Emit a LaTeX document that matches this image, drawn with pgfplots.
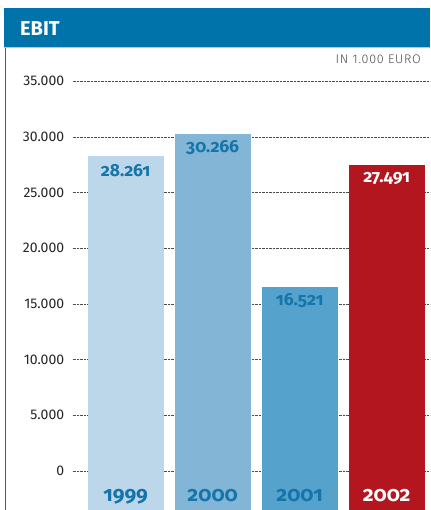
\documentclass[border=0pt]{standalone}
\usepackage{fontspec}
\setmainfont{Fira Sans}
\newfontfamily\oldnum[Numbers=OldStyle]{Fira Sans}
\newfontfamily\lightfont[LetterSpace=6]{Fira Sans Light}
\usepackage{pgfplots}
\pgfplotsset{compat=1.18}
\definecolor{hdr}{HTML}{0073AA}
\definecolor{c99}{HTML}{BCD6EA}
\definecolor{c00}{HTML}{82B5D6}
\definecolor{c01}{HTML}{55A3CC}
\definecolor{c02}{HTML}{B3161F}
\definecolor{lbl}{HTML}{1575AA}
\pgfplotsset{
  valbar/.style={ybar, bar width=76pt, bar shift=0pt, draw=none, fill=#1,
    nodes near coords,
    every node near coord/.append style={anchor=center, yshift=-14pt,
      font=\oldnum\bfseries\fontsize{17.5}{17.5}\selectfont, text=lbl}},
  extbar/.style={ybar, bar width=76pt, bar shift=0pt, draw=none, fill=#1,
    point meta=explicit symbolic, nodes near coords,
    every node near coord/.append style={anchor=base, yshift=8.5pt,
      font=\oldnum\bfseries\fontsize{21}{21}\selectfont, text=lbl}},
}
\begin{document}
\begin{tikzpicture}[x=1pt,y=1pt]
\path[use as bounding box] (0,0) rectangle (430,510);
\fill[hdr] (4,463) rectangle (430,502);
\draw[hdr!35, line width=1pt] (4,462.5) -- (430,462.5);
\draw[hdr, line width=1.3pt] (5.2,0) -- (5.2,462);
\node[anchor=base west, text=white, font=\bfseries\fontsize{20}{20}\selectfont, inner sep=0] at (20,474) {EBIT};
\node[anchor=base east, text=black!70, font=\lightfont\fontsize{12.5}{12.5}\selectfont, inner sep=0] at (421,446) {IN 1.000 EURO};
\begin{axis}[
  at={(83.5,0)}, anchor=south west, scale only axis,
  width=357pt, height=440pt,
  xmin=-0.609, xmax=3.494, ymin=-3500, ymax=36000,
  axis line style={draw=none},
  xtick=\empty,
  ytick={0,5000,...,35000},
  scaled y ticks=false,
  major tick length=0pt,
  ymajorgrids,
  grid style={densely dotted, black!70, line width=0.6pt},
  yticklabel style={font=\fontsize{14}{14}\selectfont, text=black!85, xshift=-5pt},
  /pgf/number format/1000 sep={.},
  /pgf/number format/assume math mode=true,
]
\addplot[valbar=c99] coordinates {(0,28261)};
\addplot[extbar=c99] coordinates {(0,-3500) [1999]};
\addplot[valbar=c00] coordinates {(1,30266)};
\addplot[extbar=c00] coordinates {(1,-3500) [2000]};
\addplot[valbar=c01] coordinates {(2,16521)};
\addplot[extbar=c01] coordinates {(2,-3500) [2001]};
\addplot[valbar=c02, every node near coord/.append style={text=white}] coordinates {(3,27491)};
\addplot[extbar=c02, every node near coord/.append style={text=white}] coordinates {(3,-3500) [2002]};
\end{axis}
\end{tikzpicture}
\end{document}
